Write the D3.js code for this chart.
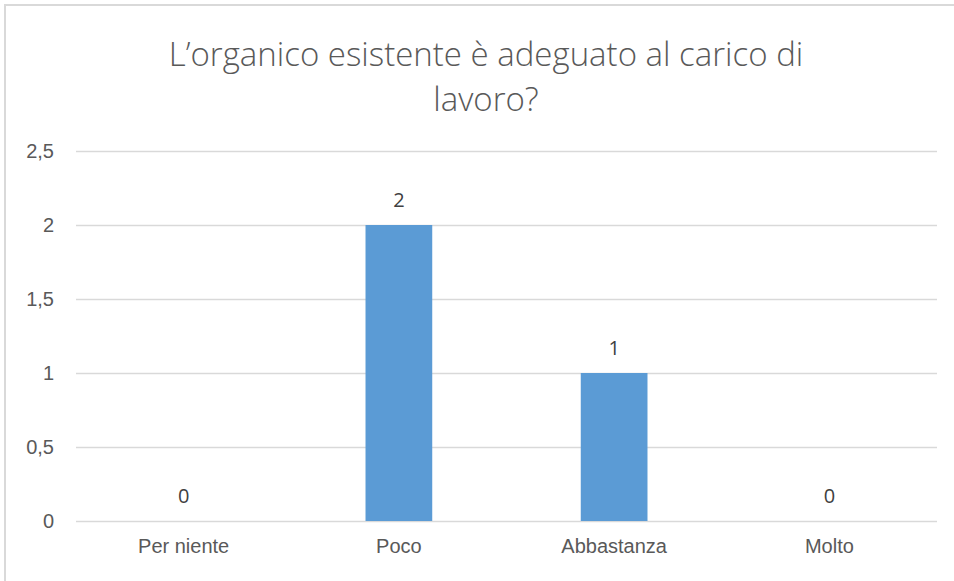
<!DOCTYPE html>
<html>
<head>
<meta charset="utf-8">
<script src="https://cdn.jsdelivr.net/npm/d3@7"></script>
<style>
  html, body { margin: 0; padding: 0; background: #fff; }
  svg { display: block; font-family: "Open Sans", "Liberation Sans", sans-serif; }
</style>
</head>
<body>
<div id="chart-container"></div>
<script>
// data
const categories = ["Per niente", "Poco", "Abbastanza", "Molto"];
const values = [0, 2, 1, 0];
const yTicks = [0, 0.5, 1, 1.5, 2, 2.5];
const titleLines = ["L’organico esistente è adeguato al carico di", "lavoro?"];

const W = 954, H = 581;
const padding = { top: 151, right: 17, bottom: 60, left: 76 };
const w = W - padding.left - padding.right;
const h = H - padding.top - padding.bottom;

const svg = d3
  .select("#chart-container")
  .append("svg")
  .attr("width", W)
  .attr("height", H);

// chart border
svg
  .append("rect")
  .attr("x", 5)
  .attr("y", 5)
  .attr("width", W + 10)
  .attr("height", H + 10)
  .attr("fill", "#fff")
  .attr("stroke", "#d9d9d9")
  .attr("stroke-width", 2);

// title
svg
  .append("g")
  .selectAll("text")
  .data(titleLines)
  .enter()
  .append("text")
  .attr("x", 486)
  .attr("y", (d, i) => 66 + i * 45)
  .attr("text-anchor", "middle")
  .attr("fill", "#595959")
  .style("font-size", "33px")
  .style("font-weight", 300)
  .text((d) => d);

const plot = svg
  .append("g")
  .attr("transform", `translate(${padding.left}, ${padding.top})`);

// scales
const x = d3.scaleBand().domain(categories).range([0, w]).paddingInner(0.69).paddingOuter(0.345);
const xc = d3.scaleBand().domain(categories).range([0, w]);
const y = d3.scaleLinear().domain([0, 2.5]).range([h, 0]);
const fmt = (v) => String(v).replace(".", ",");

// gridlines
plot
  .append("g")
  .selectAll("line")
  .data(yTicks)
  .enter()
  .append("line")
  .attr("x1", 0)
  .attr("x2", w)
  .attr("y1", (d) => Math.round(y(d)) + 0.5)
  .attr("y2", (d) => Math.round(y(d)) + 0.5)
  .attr("stroke", "#d9d9d9")
  .attr("stroke-width", 1.5);

// y axis
const yAxis = d3.axisLeft(y).tickValues(yTicks).tickFormat(fmt).tickSize(0).tickPadding(22);
const gy = plot.append("g").call(yAxis);
gy.select(".domain").remove();
gy.selectAll("text")
  .attr("fill", "#595959")
  .style("font-size", "20px")
  .style("font-family", "inherit");

// x axis
const xAxis = d3.axisBottom(xc).tickSize(0).tickPadding(18);
const gx = plot.append("g").attr("transform", `translate(0, ${h})`).call(xAxis);
gx.select(".domain").remove();
gx.selectAll("text")
  .attr("fill", "#595959")
  .style("font-size", "20px")
  .style("font-family", "inherit");

// bars
plot
  .selectAll("rect.bar")
  .data(values)
  .enter()
  .append("rect")
  .attr("class", "bar")
  .attr("x", (d, i) => x(categories[i]))
  .attr("y", (d) => y(d))
  .attr("width", x.bandwidth())
  .attr("height", (d) => h - y(d))
  .attr("fill", "#5b9bd5");

// data labels
plot
  .selectAll("text.label")
  .data(values)
  .enter()
  .append("text")
  .attr("class", "label")
  .attr("x", (d, i) => xc(categories[i]) + xc.bandwidth() / 2)
  .attr("y", (d) => y(d) - 18)
  .attr("text-anchor", "middle")
  .attr("fill", "#404040")
  .style("font-size", "20px")
  .text((d) => fmt(d));
</script>
</body>
</html>
